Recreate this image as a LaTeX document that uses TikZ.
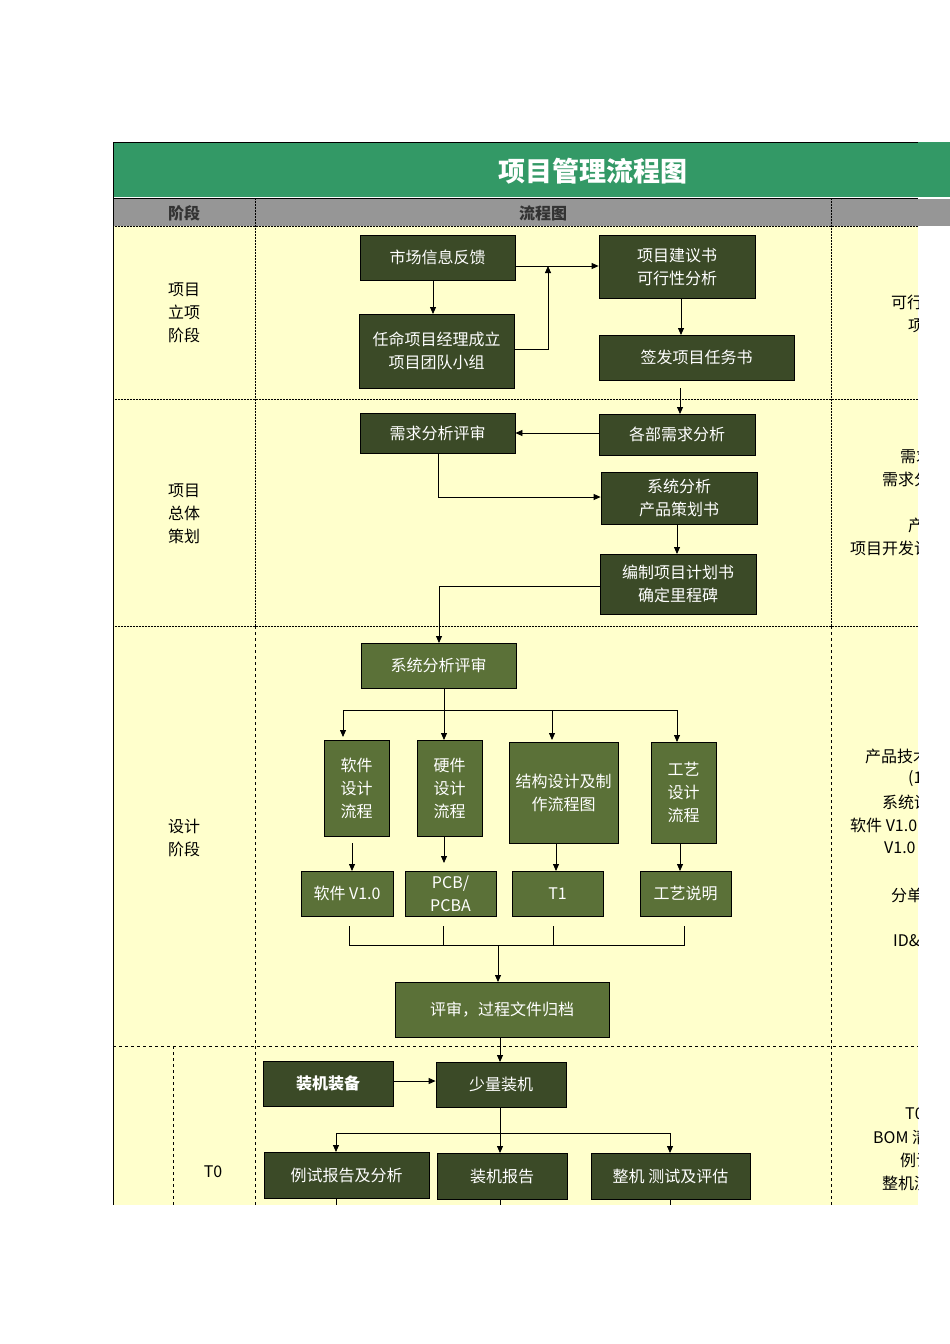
\documentclass[tikz,border=0pt]{standalone}
\usepackage{fontspec}
\setmainfont{Noto Sans CJK SC}
\usetikzlibrary{arrows.meta}
\definecolor{hdr}{HTML}{339966}
\definecolor{gry}{HTML}{969696}
\definecolor{yel}{HTML}{FFFFCC}
\definecolor{dk}{HTML}{3B4A27}
\definecolor{ol}{HTML}{5B7138}
\begin{document}
\begin{tikzpicture}[x=1pt,y=-1pt,
  bx/.style={draw=black,line width=0.8pt,fill=dk,text=white,align=center,inner sep=1pt,font=\fontsize{16}{23}\selectfont},
  bo/.style={bx,fill=ol},
  ar/.style={-{Triangle[length=7pt,width=6pt]},line width=0.8pt},
  ln/.style={line width=0.8pt},
  lab/.style={font=\fontsize{16}{23}\selectfont,align=center},
  rt/.style={font=\fontsize{16}{23}\selectfont,anchor=west,inner sep=0pt},
  sep/.style={densely dotted,line width=0.5pt},
  dsh/.style={dashed,line width=0.6pt}]
\useasboundingbox (0,0) rectangle (950,1344);
\fill[white] (0,0) rectangle (950,1344);
\fill[hdr] (113,142) rectangle (950,197);
\draw[line width=1pt] (113,142) -- (918,142);
\draw[line width=1pt] (113,198) -- (918,198);
\fill[gry] (113,199) rectangle (950,226);
\fill[yel] (113,226) rectangle (918,1205);
\draw[line width=1pt] (113,142) -- (113,1205);
\node[text=white,font=\fontsize{27}{30}\selectfont\bfseries] (title) at (593,171) {项目管理流程图};
\node[font=\fontsize{16}{20}\selectfont\bfseries,text=black!80] (h1) at (184,213) {阶段};
\node[font=\fontsize{16}{20}\selectfont\bfseries,text=black!80] (h2) at (543,213) {流程图};
% grid
\draw[sep] (255,199) -- (255,626); \draw[sep] (831,199) -- (831,626);
\draw[dsh] (255,626) -- (255,1205); \draw[dsh] (831,626) -- (831,1205);
\draw[sep] (113,226) -- (918,226);
\draw[sep] (113,399) -- (918,399);
\draw[sep] (113,626) -- (918,626);
\draw[dsh] (113,1046) -- (918,1046);
\draw[dsh] (173,1046) -- (173,1205);
% left labels
\node[lab] (l1) at (184,313) {项目\\立项\\阶段};
\node[lab] (l2) at (184,514) {项目\\总体\\策划};
\node[lab] (l3) at (184,838) {设计\\阶段};
\node[lab] (l4) at (213,1172) {T0};
% right clipped texts
\begin{scope}
\clip (832,226) rectangle (918,1205);
\node[rt] (r1) at (891,302) {可行性报告};
\node[rt] (r2) at (908,325) {项目任务书};
\node[rt] (r3) at (900,456) {需求说明书};
\node[rt] (r4) at (882,479) {需求分析报告};
\node[rt] (r5) at (908,525) {产品策划书};
\node[rt] (r6) at (850,548) {项目开发计划书};
\node[rt] (r7) at (865,756) {产品技术规格书};
\node[rt] (r8) at (908,779) {(1)};
\node[rt] (r9) at (882,802) {系统设计方案};
\node[rt] (r10) at (850,825) {软件 V1.0 说明};
\node[rt] (r11) at (884,848) {V1.0 原理图};
\node[rt] (r12) at (891,895) {分单明细};
\node[rt] (r13) at (893,941) {ID\&MD};
\node[rt] (r14) at (905,1113) {T0 样机};
\node[rt] (r15) at (873,1137) {BOM 清单};
\node[rt] (r16) at (900,1160) {例试报告};
\node[rt] (r17) at (882,1183) {整机测试报告};
\end{scope}
% boxes
\node[bx,minimum width=155,minimum height=45] (a1) at (437.5,257.5) {市场信息反馈};
\node[bx,minimum width=155,minimum height=74] (a2) at (436.5,351) {任命项目经理成立\\项目团队小组};
\node[bx,minimum width=156,minimum height=63] (a3) at (677,266.5) {项目建议书\\可行性分析};
\node[bx,minimum width=195,minimum height=45] (a4) at (696.5,357.5) {签发项目任务书};
\node[bx,minimum width=155,minimum height=40] (b1) at (437.5,433) {需求分析评审};
\node[bx,minimum width=156,minimum height=41] (b2) at (677,434.5) {各部需求分析};
\node[bx,minimum width=156,minimum height=52] (b3) at (679,498) {系统分析\\产品策划书};
\node[bx,minimum width=156,minimum height=60] (b4) at (678,584) {编制项目计划书\\确定里程碑};
\node[bo,minimum width=155,minimum height=45] (c0) at (438.5,665.5) {系统分析评审};
\node[bo,minimum width=65,minimum height=96] (c1) at (356.5,788) {软件\\设计\\流程};
\node[bo,minimum width=65,minimum height=96] (c2) at (449.5,788) {硬件\\设计\\流程};
\node[bo,minimum width=109,minimum height=101] (c3) at (563.5,792.5) {结构设计及制\\作流程图};
\node[bo,minimum width=65,minimum height=101] (c4) at (683.5,792.5) {工艺\\设计\\流程};
\node[bo,minimum width=92,minimum height=45] (d1) at (347,893.5) {软件 V1.0};
\node[bo,minimum width=91,minimum height=45] (d2) at (450.5,893.5) {PCB/\\PCBA};
\node[bo,minimum width=91,minimum height=45] (d3) at (557.5,893.5) {T1};
\node[bo,minimum width=91,minimum height=45] (d4) at (685.5,893.5) {工艺说明};
\node[bo,minimum width=214,minimum height=55] (e1) at (502,1009.5) {评审，过程文件归档};
\node[bx,minimum width=130,minimum height=45,font=\fontsize{16}{23}\selectfont\bfseries] (f1) at (328,1083.5) {装机装备};
\node[bx,minimum width=130,minimum height=45] (f2) at (501,1084.5) {少量装机};
\node[bx,minimum width=165,minimum height=46] (g1) at (346.5,1175) {例试报告及分析};
\node[bx,minimum width=130,minimum height=46] (g2) at (502,1176) {装机报告};
\node[bx,minimum width=159,minimum height=46] (g3) at (670.5,1176) {整机 测试及评估};
% connectors
\draw[ar] (433,280) -- (433,314);
\draw[ar] (a1.east |- 0,266) -- (a3.west |- 0,266);
\draw[ar] (a2.east |- 0,349) -- (548,349) -- (548,266);
\draw[ar] (681,298) -- (681,335);
\coordinate (a4b) at (680,388);
\draw[ar] (a4b) -- (680,414);
\draw[ar] (b2.west |- 0,433) -- (b1.east |- 0,433);
\draw[ar] (438,453) -- (438,497) -- (b3.west |- 0,497);
\draw[ar] (677,524) -- (677,554);
\draw[ar] (b4.west |- 0,586) -- (439,586) -- (439,643);
\draw[ln] (444,688) -- (444,710);
\draw[ln] (343,710) -- (677,710);
\draw[ar] (343,710) -- (343,737);
\draw[ar] (444,710) -- (444,740);
\draw[ar] (552,710) -- (552,740);
\draw[ar] (677,710) -- (677,742);
\draw[ar] (352,843) -- (352,871);
\draw[ar] (444,836) -- (444,863);
\draw[ar] (556,843) -- (556,871);
\draw[ar] (680,843) -- (680,871);
\draw[ln] (349,926) -- (349,945) -- (684,945) -- (684,926);
\draw[ln] (443,926) -- (443,945);
\draw[ln] (553,926) -- (553,945);
\draw[ar] (498,945) -- (498,982);
\draw[ar] (500,1037) -- (500,1062);
\draw[ar] (f1.east |- 0,1081) -- (f2.west |- 0,1081);
\draw[ln] (500,1107) -- (500,1133);
\draw[ln] (336,1133) -- (670,1133);
\draw[ar] (336,1133) -- (336,1152);
\draw[ar] (500,1133) -- (500,1153);
\draw[ar] (670,1133) -- (670,1153);
\coordinate (z1) at (336,1205); \coordinate (z2) at (500,1205); \coordinate (z3) at (670,1205);
\draw[ln] (g1.south -| z1) -- (z1);
\draw[ln] (g2.south -| z2) -- (z2);
\draw[ln] (g3.south -| z3) -- (z3);
\end{tikzpicture}
\end{document}
